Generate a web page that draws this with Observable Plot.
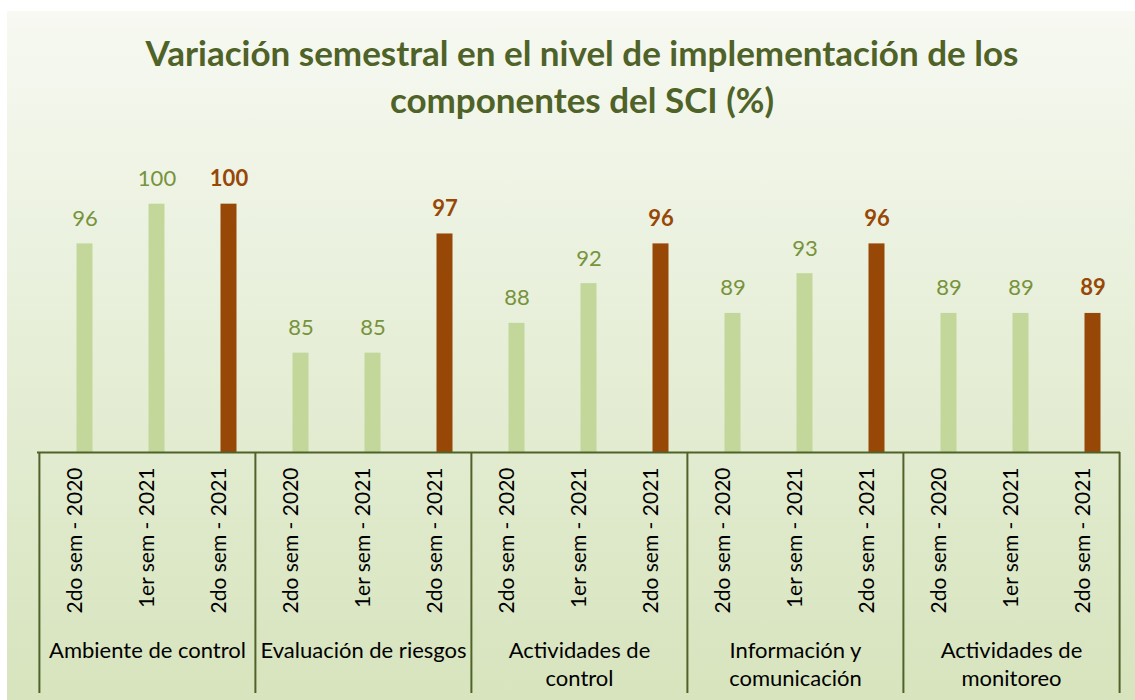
<!DOCTYPE html>
<html>
<head>
<meta charset="utf-8">
<script src="https://cdn.jsdelivr.net/npm/d3@7"></script>
<script src="https://cdn.jsdelivr.net/npm/@observablehq/plot@0.6"></script>
<style>
  html, body { margin: 0; padding: 0; background: #ffffff; }
  #wrap { position: relative; width: 1135px; height: 700px; overflow: hidden; }
  #bg { position: absolute; left: 7px; top: 11px; width: 1128px; height: 689px;
        background: linear-gradient(to bottom, #f7f9f2 0%, #e9f0dc 40%, #d7e4bd 100%); }
  #title { position: absolute; left: 32px; width: 1100px; top: 29px; text-align: center;
           font-family: Lato, "Open Sans", sans-serif; font-weight: bold; font-size: 35px;
           line-height: 47px; color: #4f6228; }
  #chart { position: absolute; left: 0; top: 0; }
  #chart svg { background: transparent; overflow: visible; }
</style>
</head>
<body>
<div id="wrap">
  <div id="bg"></div>
  <div id="title">Variación semestral en el nivel de implementación de los<br>componentes del SCI (%)</div>
  <div id="chart"></div>
</div>
<script>
// ---- Data ----
const components = ["Ambiente de control", "Evaluación de riesgos", "Actividades de control", "Información y comunicación", "Actividades de monitoreo"];
const componentLabels = ["Ambiente de control", "Evaluación de riesgos", "Actividades de\ncontrol", "Información y\ncomunicación", "Actividades de\nmonitoreo"];
const periods = ["2do sem - 2020", "1er sem - 2021", "2do sem - 2021"];
const sem2_2020 = [96, 85, 88, 89, 89];
const sem1_2021 = [100, 85, 92, 93, 89];
const sem2_2021 = [100, 97, 96, 96, 89];
const series = [sem2_2020, sem1_2021, sem2_2021];

// ---- Build table ----
const data = [];
components.forEach((c, ci) => {
  periods.forEach((p, pi) => {
    data.push({component: c, ci, period: p, pi, key: c + "|" + p, value: series[pi][ci], latest: pi === periods.length - 1});
  });
});
const keys = data.map(d => d.key);
const older = data.filter(d => !d.latest);
const latest = data.filter(d => d.latest);
const firstKeys = components.map(c => c + "|" + periods[0]);
const midKeys = components.map((c, i) => ({key: c + "|" + periods[1], label: componentLabels[i]}));
const lastKey = keys[keys.length - 1];

// ---- Layout constants ----
const W = 1135, H = 700;
const mL = 37, mR = 15, mT = 154, mB = 248;
const yMin = 75, yMax = 105;
const pxPerUnit = (H - mT - mB) / (yMax - yMin);
const sepLen = 241; // separator length below baseline, px
const yLow = yMin - sepLen / pxPerUnit;
const step = (W - mL - mR) / keys.length;
const barShift = 9.5;

const light = "#c4d79b", dark = "#974706", lightText = "#77933c", axisColor = "#4f6228";
const font = "Lato, 'Open Sans', sans-serif";

const chart = Plot.plot({
  width: W, height: H,
  marginLeft: mL, marginRight: mR, marginTop: mT, marginBottom: mB,
  style: {fontFamily: font, background: "transparent", overflow: "visible"},
  x: {type: "band", domain: keys, paddingInner: 0.78, paddingOuter: 0.39, axis: null},
  y: {domain: [yMin, yMax], axis: null},
  marks: [
    Plot.barY(data, {x: "key", y1: yMin, y2: "value", dx: barShift, fill: d => d.latest ? dark : light}),
    Plot.text(older, {x: "key", y: "value", text: d => String(d.value), dx: barShift, dy: -25, lineAnchor: "middle",
      fill: lightText, fontSize: 22}),
    Plot.text(latest, {x: "key", y: "value", text: d => String(d.value), dx: barShift, dy: -25, lineAnchor: "middle",
      fill: dark, fontWeight: "bold", fontSize: 22}),
    Plot.ruleY([yMin], {stroke: axisColor, strokeWidth: 2}),
    Plot.ruleX(firstKeys, {x: d => d, y1: yMin, y2: yLow, dx: -step / 2, stroke: axisColor, strokeWidth: 2}),
    Plot.ruleX([lastKey], {x: d => d, y1: yMin, y2: yLow, dx: step / 2, stroke: axisColor, strokeWidth: 2}),
    Plot.text(data, {x: "key", y: yMin, text: "period", rotate: -90, textAnchor: "end", lineAnchor: "middle",
      dy: 15, fontSize: 21, fill: "#000000"}),
    Plot.text(midKeys, {x: "key", y: yMin, text: "label", lineAnchor: "top", dy: 186, fontSize: 22,
      lineHeight: 1.27, fill: "#000000"})
  ]
});
document.getElementById("chart").appendChild(chart);
</script>
</body>
</html>
